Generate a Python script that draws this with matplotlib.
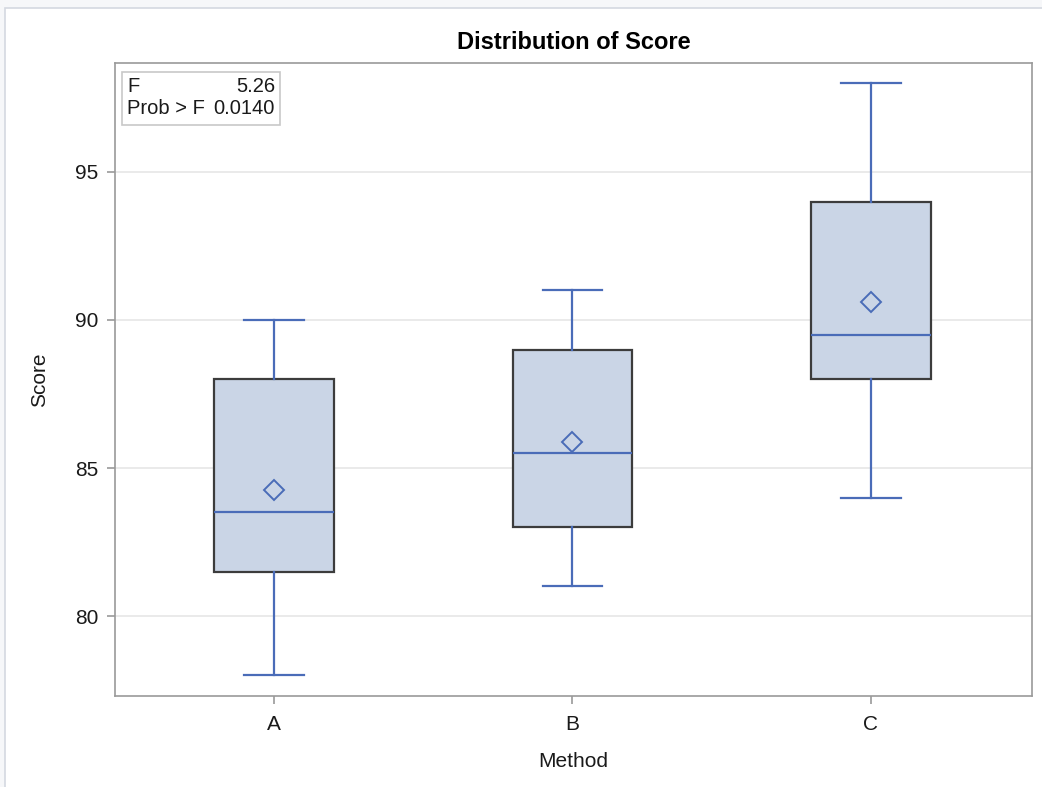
import matplotlib
matplotlib.use("Agg")
import matplotlib.pyplot as plt
from matplotlib.patches import Rectangle

plt.rcParams['font.family'] = ['Liberation Sans', 'DejaVu Sans']

methods = ['A', 'B', 'C']
whisker_low = [78, 81, 84]
q1 = [81.5, 83, 88]
medians = [83.5, 85.5, 89.5]
q3 = [88, 89, 94]
whisker_high = [90, 91, 98]
means = [84.25, 85.88, 90.61]
yticks = [80, 85, 90, 95]
f_value = 5.26
p_value = 0.0140

fill = '#cad5e6'
edge = '#3c3c3c'
blue = '#4a6cb8'

W, H = 1042, 787
fig = plt.figure(figsize=(W / 100, H / 100), dpi=100, facecolor='#f6f7f9')
# white panel with light frame (right/bottom run off the image)
fig.patches.append(Rectangle((5 / W, -0.05), 1.1, 1.05 - 8 / H, transform=fig.transFigure,
                             facecolor='white', edgecolor='#d4d8e0', linewidth=1.2, zorder=-10))
L, R, T, B = 115, 1032, 63, 696
ax = fig.add_axes([L / W, 1 - B / H, (R - L) / W, (B - T) / H])

stats = []
for i in range(len(methods)):
    stats.append({'label': methods[i], 'whislo': whisker_low[i], 'q1': q1[i], 'med': medians[i],
                  'q3': q3[i], 'whishi': whisker_high[i], 'mean': means[i], 'fliers': []})

ax.bxp(stats, positions=range(len(methods)), widths=0.4, showmeans=True, patch_artist=True,
       boxprops=dict(facecolor=fill, edgecolor=edge, linewidth=1.6),
       medianprops=dict(color=blue, linewidth=1.6),
       whiskerprops=dict(color=blue, linewidth=1.6),
       capprops=dict(color=blue, linewidth=1.6),
       meanprops=dict(marker='D', markersize=10, markerfacecolor='none',
                      markeredgecolor=blue, markeredgewidth=1.4),
       capwidths=0.2)

ax.set_xlim(-0.533, 2.54)
ax.set_ylim(77.3, 98.68)
ax.set_yticks(yticks)
ax.set_yticklabels([str(t) for t in yticks])
ax.set_xticks(range(len(methods)))
ax.set_xticklabels(methods)
ax.grid(axis='y', color='#e6e6e6', linewidth=1.2)
ax.set_axisbelow(True)
for s in ax.spines.values():
    s.set_color('#9a9a9a')
    s.set_linewidth(1.2)
ax.tick_params(colors='#9a9a9a', labelcolor='#1a1a1a', labelsize=15, length=6, width=1.2)
ax.tick_params(axis='y', pad=6)
ax.tick_params(axis='x', pad=8)

ax.set_xlabel('Method', fontsize=15, color='#1a1a1a')
ax.set_ylabel('Score', fontsize=15, color='#1a1a1a')
ax.xaxis.set_label_coords(0.5, (B - 752) / (B - T))
ax.yaxis.set_label_coords((49 - L) / (R - L), 0.5)
ax.set_title('Distribution of Score', fontsize=17, fontweight='bold', pad=10)

# stats inset
def ax_x(px):
    return (px - L) / (R - L)

def ax_y(py):
    return (B - py) / (B - T)

ax.add_patch(Rectangle((ax_x(122), ax_y(125)), ax_x(280) - ax_x(122), ax_y(72) - ax_y(125),
                       transform=ax.transAxes, facecolor='white', edgecolor='#c8c8c8',
                       linewidth=1.2, zorder=5))
rows = [('F', f'{f_value:.2f}', 86), ('Prob > F', f'{p_value:.4f}', 109)]
for label, val, py in rows:
    ax.text(ax_x(127), ax_y(py), label, transform=ax.transAxes, fontsize=14.5,
            va='center', ha='left', zorder=6, color='#1a1a1a')
    ax.text(ax_x(275), ax_y(py), val, transform=ax.transAxes, fontsize=14.5,
            va='center', ha='right', zorder=6, color='#1a1a1a')

fig.savefig('out.png', dpi=100, facecolor=fig.get_facecolor())
